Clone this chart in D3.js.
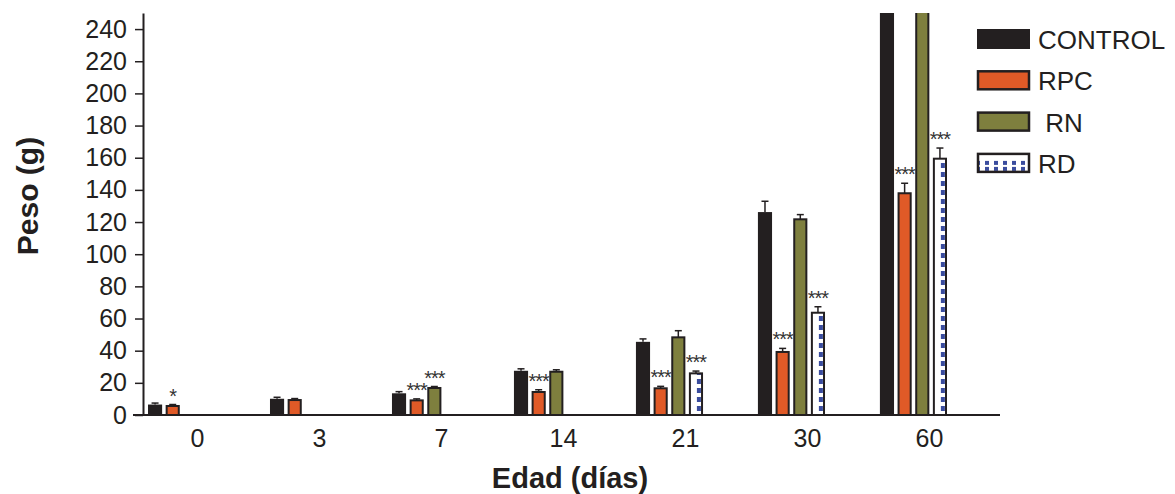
<!DOCTYPE html>
<html>
<head>
<meta charset="utf-8">
<script src="https://cdn.jsdelivr.net/npm/d3@7"></script>
<style>
  body { margin: 0; background: #fff; }
  svg { display: block; font-family: "Liberation Sans", Arial, sans-serif; }
</style>
</head>
<body>
<svg id="chart" width="1175" height="494"></svg>
<script>
// datos (peso medio en g, con error estándar)
const categories = ["0", "3", "7", "14", "21", "30", "60"];
const series = ["CONTROL", "RPC", "RN", "RD"];
const legendLabels = ["CONTROL", "RPC", " RN", "RD"];

const controlVals = [6.5, 10.1, 13.5, 27.5, 45.5, 126.2, 275];
const controlErr = [0.3, 0.3, 0.4, 0.6, 1.2, 6.1, 0];
const rpcVals = [5.6, 9.3, 9.1, 14.3, 16.6, 39.2, 137.9];
const rpcErr = [0.3, 0.3, 0.3, 0.8, 0.6, 1.6, 5.6];
const rnVals = [null, null, 16.8, 26.9, 48.3, 121.7, 262];
const rnErr = [null, null, 0.3, 0.6, 3.5, 2.3, 0];
const rdVals = [null, null, null, null, 25.9, 63.6, 159.4];
const rdErr = [null, null, null, null, 0.8, 3.1, 6];

const rpcStars = ["*", "", "***", "***", "***", "***", "***"];
const rnStars = ["", "", "***", "", "", "", ""];
const rdStars = ["", "", "", "", "***", "***", "***"];

const yTicks = [0, 20, 40, 60, 80, 100, 120, 140, 160, 180, 200, 220, 240];

const ink = "#231f20";
const colors = { CONTROL: ink, RPC: "#e05a27", RN: "#7e7f3e", RD: "url(#rdPattern)" };
const blue = "#3a4c9e";

const svg = d3.select("#chart");

const valuesBySeries = {
  CONTROL: [controlVals, controlErr, categories.map(() => "")],
  RPC: [rpcVals, rpcErr, rpcStars],
  RN: [rnVals, rnErr, rnStars],
  RD: [rdVals, rdErr, rdStars],
};

const bars = [];
series.forEach((s) => {
  const [v, e, st] = valuesBySeries[s];
  categories.forEach((c, i) => {
    if (v[i] == null) return;
    bars.push({ cat: c, series: s, value: v[i], err: e[i], star: st[i] });
  });
});

// escalas
const y = d3.scaleLinear().domain([0, 250]).range([415, 13]);
const x0 = d3.scaleBand().domain(categories).range([148, 947]).paddingInner(0.45);
const x1 = d3.scaleBand().domain(series).range([0, x0.bandwidth()]).paddingInner(0.2);

const defs = svg.append("defs");
defs.append("clipPath").attr("id", "plotClip")
  .append("rect").attr("x", 140).attr("y", y(250)).attr("width", 860).attr("height", y(0) - y(250) + 2);

// patrón de RD: columna de guiones azules
const rdPat = defs.append("pattern").attr("id", "rdPattern")
  .attr("patternUnits", "userSpaceOnUse")
  .attr("x", x0(categories[0]) + x1("RD")).attr("y", y(0))
  .attr("width", x0.step()).attr("height", 9);
rdPat.append("rect").attr("width", x0.step()).attr("height", 9).attr("fill", "#fff");
rdPat.append("rect").attr("x", 8).attr("y", 0).attr("width", 4).attr("height", 5).attr("fill", blue);

// patrón de la leyenda RD: filas de cuadrados
const legPat = defs.append("pattern").attr("id", "legPattern")
  .attr("patternUnits", "userSpaceOnUse")
  .attr("x", 978).attr("y", 153).attr("width", 9).attr("height", 20);
legPat.append("rect").attr("width", 9).attr("height", 20).attr("fill", "#fff");
legPat.append("rect").attr("x", 2).attr("y", 1).attr("width", 4).attr("height", 4).attr("fill", blue);
legPat.append("rect").attr("x", 2).attr("y", 15).attr("width", 4).attr("height", 4).attr("fill", blue);

const plot = svg.append("g").attr("clip-path", "url(#plotClip)");

// barras
plot.selectAll("rect.bar")
  .data(bars)
  .join("rect")
  .attr("class", "bar")
  .attr("x", (d) => x0(d.cat) + x1(d.series) + (d.series === "CONTROL" ? 0 : 1))
  .attr("width", (d) => x1.bandwidth() - (d.series === "CONTROL" ? 0 : 2))
  .attr("y", (d) => y(d.value))
  .attr("height", (d) => y(0) - y(d.value))
  .attr("fill", (d) => colors[d.series])
  .attr("stroke", (d) => (d.series === "CONTROL" ? "none" : ink))
  .attr("stroke-width", 2);

// barras de error
const eb = plot.selectAll("g.err")
  .data(bars.filter((d) => d.err > 0))
  .join("g")
  .attr("class", "err")
  .attr("stroke", ink)
  .attr("stroke-width", 1.5);
eb.append("line")
  .attr("x1", (d) => x0(d.cat) + x1(d.series) + x1.bandwidth() / 2)
  .attr("x2", (d) => x0(d.cat) + x1(d.series) + x1.bandwidth() / 2)
  .attr("y1", (d) => y(d.value))
  .attr("y2", (d) => y(d.value + d.err) - 1);
eb.append("line")
  .attr("x1", (d) => x0(d.cat) + x1(d.series) + x1.bandwidth() / 2 - 3.5)
  .attr("x2", (d) => x0(d.cat) + x1(d.series) + x1.bandwidth() / 2 + 3.5)
  .attr("y1", (d) => y(d.value + d.err) - 1)
  .attr("y2", (d) => y(d.value + d.err) - 1);

// asteriscos
svg.append("g").selectAll("text")
  .data(bars.filter((d) => d.star))
  .join("text")
  .attr("x", (d) => x0(d.cat) + x1(d.series) + x1.bandwidth() / 2)
  .attr("y", (d) => y(d.value + d.err) - 3)
  .attr("text-anchor", "middle")
  .attr("font-size", 20)
  .attr("letter-spacing", -1)
  .attr("fill", "#333")
  .text((d) => d.star);

// eje Y
const yAxis = svg.append("g")
  .attr("transform", "translate(143,0)")
  .call(d3.axisLeft(y).tickValues(yTicks).tickSize(8).tickSizeOuter(0).tickPadding(8));
yAxis.select(".domain").attr("stroke", ink).attr("stroke-width", 2);
yAxis.selectAll(".tick line").attr("stroke", ink).attr("stroke-width", 1.5);
yAxis.selectAll(".tick text").attr("font-size", 25).attr("fill", ink)
  .attr("font-family", "Liberation Sans, Arial, sans-serif");

// eje X
const xAxis = svg.append("g")
  .attr("transform", `translate(0,${y(0)})`)
  .call(d3.axisBottom(x0).tickSize(0).tickPadding(14));
xAxis.select(".domain").remove();
xAxis.selectAll(".tick text")
  .attr("font-size", 25).attr("fill", ink)
  .attr("font-family", "Liberation Sans, Arial, sans-serif")
  .attr("dx", 16);
svg.append("line")
  .attr("x1", 133).attr("x2", 1000)
  .attr("y1", y(0)).attr("y2", y(0))
  .attr("stroke", ink).attr("stroke-width", 2);

// títulos
svg.append("text")
  .attr("x", 570).attr("y", 488)
  .attr("text-anchor", "middle")
  .attr("font-size", 29).attr("font-weight", "bold").attr("fill", ink)
  .text("Edad (días)");
svg.append("text")
  .attr("transform", "translate(38,196) rotate(-90)")
  .attr("text-anchor", "middle")
  .attr("font-size", 30).attr("font-weight", "bold").attr("fill", ink)
  .text("Peso (g)");

// leyenda
const legend = svg.append("g").selectAll("g")
  .data(series)
  .join("g")
  .attr("transform", (d, i) => `translate(977,${29 + i * 41.3})`);
legend.append("rect")
  .attr("x", (d) => (d === "CONTROL" ? 0 : 1))
  .attr("y", (d) => (d === "CONTROL" ? 0 : 1))
  .attr("width", (d) => (d === "CONTROL" ? 53 : 51))
  .attr("height", (d) => (d === "CONTROL" ? 20 : 18))
  .attr("fill", (d) => (d === "RD" ? "url(#legPattern)" : colors[d]))
  .attr("stroke", (d) => (d === "CONTROL" ? "none" : ink))
  .attr("stroke-width", 2.5);
legend.append("text")
  .attr("x", 61).attr("y", 20)
  .attr("font-size", 26).attr("fill", ink)
  .attr("xml:space", "preserve")
  .style("white-space", "pre")
  .text((d, i) => legendLabels[i]);
</script>
</body>
</html>
